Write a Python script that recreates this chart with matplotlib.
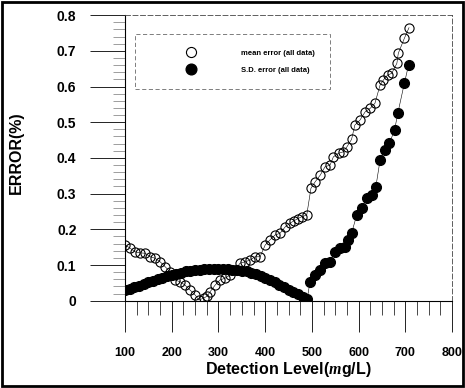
import numpy as np
import matplotlib
matplotlib.use('Agg')
import matplotlib.pyplot as plt
from matplotlib.patches import Rectangle
from matplotlib.ticker import MultipleLocator, FuncFormatter

plt.rcParams['font.family'] = ['Liberation Sans', 'DejaVu Sans']
plt.rcParams['mathtext.fontset'] = 'custom'
plt.rcParams['mathtext.it'] = 'Liberation Serif:italic:bold'

# mean error (all data)
mean_x = [100, 111, 121, 132, 143, 154, 164, 175, 186, 196, 207, 218, 228, 239,
          250, 258, 268, 276, 282, 293, 303, 314, 325, 336, 346, 357, 368, 378,
          389, 400, 410, 421, 432, 443, 453, 462, 470, 478, 489,
          498, 507, 518, 528, 539, 546, 557, 567, 575, 585, 592, 603, 614, 625,
          635, 646, 653, 662, 671, 682, 685, 698, 708]
mean_y = [0.156, 0.147, 0.137, 0.134, 0.133, 0.123, 0.119, 0.109, 0.095, 0.081,
          0.058, 0.053, 0.044, 0.030, 0.016, 0.002, 0.007, 0.013, 0.025, 0.044,
          0.058, 0.063, 0.072, 0.086, 0.105, 0.109, 0.114, 0.123, 0.123, 0.156,
          0.170, 0.184, 0.189, 0.207, 0.217, 0.224, 0.230, 0.235, 0.240,
          0.315, 0.333, 0.352, 0.375, 0.380, 0.403, 0.413, 0.417, 0.431, 0.452,
          0.492, 0.506, 0.529, 0.539, 0.553, 0.604, 0.618, 0.632, 0.637, 0.665,
          0.693, 0.735, 0.765]

# S.D. error (all data)
sd_x = [100, 110, 120, 130, 140, 150, 160, 170, 180, 190, 200, 210, 220, 230,
        240, 250, 260, 270, 280, 290, 300, 310, 320, 330, 340, 350, 360, 370,
        380, 390, 400, 410, 420, 430, 440, 450, 460, 470, 480, 490,
        496, 507, 518, 528, 539, 550, 560, 571, 578, 585, 596, 607, 617, 628,
        637, 646, 657, 666, 677, 684, 698, 707]
sd_y = [0.030, 0.034, 0.038, 0.042, 0.047, 0.051, 0.055, 0.060, 0.064, 0.069,
        0.073, 0.076, 0.079, 0.082, 0.084, 0.086, 0.087, 0.088, 0.089, 0.089,
        0.089, 0.089, 0.088, 0.087, 0.086, 0.084, 0.082, 0.079, 0.074, 0.068,
        0.063, 0.057, 0.051, 0.045, 0.038, 0.031, 0.025, 0.018, 0.011, 0.005,
        0.053, 0.072, 0.086, 0.105, 0.109, 0.137, 0.147, 0.151, 0.170, 0.189,
        0.240, 0.259, 0.287, 0.296, 0.319, 0.394, 0.422, 0.441, 0.478, 0.525,
        0.609, 0.660]

x_ticks = [100, 200, 300, 400, 500, 600, 700, 800]
y_ticks = [0, 0.1, 0.2, 0.3, 0.4, 0.5, 0.6, 0.7, 0.8]

fig = plt.figure(figsize=(4.65, 3.88), dpi=100)
ax = fig.add_axes([0.269, 0.225, 0.703, 0.736])

ax.plot(mean_x, mean_y, color='black', lw=0.4, marker='o', ms=6.6,
        mfc='none', mec='black', mew=0.8, label='mean error (all data)')
ax.plot(sd_x, sd_y, color='black', lw=0.4, marker='o', ms=7,
        mfc='black', mec='black', label='S.D. error (all data)')

ax.set_xlim(100, 800)
ax.set_ylim(0, 0.8)
ax.set_xticks(x_ticks)
ax.set_yticks(y_ticks)
ax.xaxis.set_minor_locator(MultipleLocator(25))
ax.yaxis.set_minor_locator(MultipleLocator(0.02))
ax.yaxis.set_major_formatter(FuncFormatter(lambda v, p: '0' if v == 0 else '%.1f' % v))

ax.tick_params(axis='x', which='major', direction='out', length=22, width=0.6,
               pad=11, labelsize=9)
ax.tick_params(axis='x', which='minor', direction='out', length=10, width=0.5)
ax.tick_params(axis='y', which='major', direction='out', length=25, width=0.6,
               pad=10, labelsize=10, colors='black')
ax.tick_params(axis='y', which='minor', direction='out', length=9, width=0.4,
               color='#555555')
for lab in ax.get_xticklabels() + ax.get_yticklabels():
    lab.set_fontweight('bold')

for s in ['top', 'right']:
    ax.spines[s].set_linestyle((0, (6, 3)))
    ax.spines[s].set_linewidth(0.6)
    ax.spines[s].set_color('#444444')
ax.spines['left'].set_linewidth(0.8)
ax.spines['bottom'].set_linewidth(0.8)

ax.set_xlabel(r'Detection Level($\mathit{m}$g/L)', fontsize=11.5,
              fontweight='bold', labelpad=1)
ax.set_ylabel('ERROR(%)', fontsize=11.5, fontweight='bold')
ax.yaxis.set_label_coords(-0.31, 0.52)

leg = ax.legend(loc='upper left', bbox_to_anchor=(0.031, 0.933), borderaxespad=0,
                fontsize=5.5, borderpad=2.0, handlelength=10.5, handletextpad=1.3,
                labelspacing=1.3, markerscale=1.1, fancybox=False)
leg.get_frame().set_linestyle((0, (5, 3)))
leg.get_frame().set_linewidth(0.6)
leg.get_frame().set_edgecolor('#444444')
for h in leg.legend_handles:
    h.set_linestyle('none')
for t in leg.get_texts():
    t.set_fontweight('bold')

fig.patches.append(Rectangle((0.005, 0.005), 0.99, 0.99, transform=fig.transFigure,
                             fill=False, lw=2, ec='black'))

fig.savefig('out.png', dpi=100)
